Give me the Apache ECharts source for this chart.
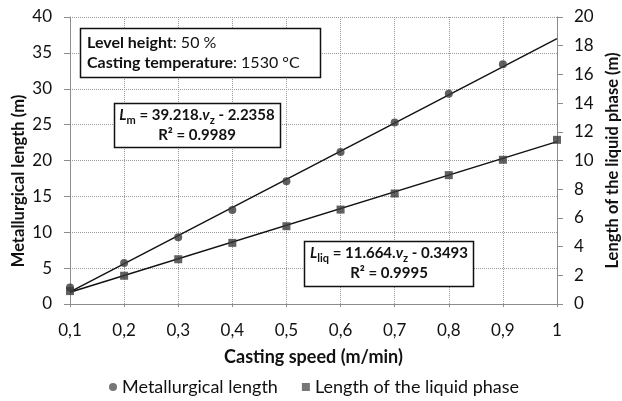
<!DOCTYPE html>
<html>
<head>
<meta charset="utf-8">
<script src="https://cdn.jsdelivr.net/npm/echarts@6/dist/echarts.min.js"></script>
<style>html,body{margin:0;padding:0;background:#fff;}#c{width:622px;height:401px;}</style>
</head>
<body>
<div id="c"></div>
<script>
const speeds = [0.1, 0.2, 0.3, 0.4, 0.5, 0.6, 0.7, 0.8, 0.9, 1.0];
const metallurgicalLength = [2.3, 5.7, 9.3, 13.1, 17.1, 21.2, 25.3, 29.3, 33.4];
const liquidPhaseLength = [0.9, 1.97, 3.12, 4.26, 5.42, 6.58, 7.7, 8.98, 10.05, 11.44];
const trendSpeeds = [0.1, 1.0];
const trendMetallurgical = [1.69, 36.98];
const trendLiquid = [0.82, 11.31];
const leftTicks = { min: 0, max: 40, interval: 5 };
const rightTicks = { min: 0, max: 20, interval: 2 };
const leftTitle = 'Metallurgical length (m)';
const rightTitle = 'Length of the liquid phase (m)';
const xTitle = 'Casting speed (m/min)';

const FONT = 'Lato';
const chart = echarts.init(document.getElementById('c'), null, { renderer: 'canvas' });
const pairs = (xs, ys) => ys.map((y, i) => [xs[i], y]);

const gridLine = { show: true, lineStyle: { color: '#999', type: [1, 1], width: 1 } };
const axisLine = { show: true, lineStyle: { color: '#8c8c8c', width: 1 } };
const labelStyle = { fontFamily: FONT, fontSize: 17, color: '#111' };
const nameStyle = { fontFamily: FONT, fontSize: 18, fontWeight: 'bold', color: '#111' };
const yNameStyle = { fontFamily: FONT, fontSize: 16.5, fontWeight: 'bold', color: '#111' };
const eqRich = {
  b: { fontFamily: FONT, fontSize: 15, fontWeight: 'bold', fill: '#111', lineHeight: 20 },
  i: { fontFamily: FONT, fontSize: 15, fontWeight: 'bold', fontStyle: 'italic', fill: '#111', lineHeight: 20 },
  s: { fontFamily: FONT, fontSize: 11, fontWeight: 'bold', fill: '#111', lineHeight: 20, verticalAlign: 'bottom' }
};

chart.setOption({
  animation: false,
  backgroundColor: '#fff',
  textStyle: { fontFamily: FONT },
  grid: { left: 70, right: 65, top: 17, bottom: 97, containLabel: false, outerBoundsMode: 'none' },
  legend: {
    bottom: 0,
    left: 104,
    itemWidth: 8,
    itemHeight: 8,
    itemGap: 24,
    textStyle: { fontFamily: FONT, fontSize: 18, color: '#111' },
    data: [
      { name: 'Metallurgical length', icon: 'circle', itemStyle: { color: '#555' } },
      { name: 'Length of the liquid phase', icon: 'rect', itemStyle: { color: '#555' } }
    ]
  },
  xAxis: {
    type: 'value',
    min: 0.1,
    max: 1,
    interval: 0.1,
    name: xTitle,
    nameLocation: 'middle',
    nameGap: 44,
    nameTextStyle: nameStyle,
    axisLine: axisLine,
    axisTick: { show: true, length: 3, lineStyle: { color: '#8c8c8c' } },
    splitLine: gridLine,
    axisLabel: Object.assign({}, labelStyle, {
      margin: 18,
      formatter: v => (Math.abs(v - 1) < 1e-9 ? '1' : v.toFixed(1).replace('.', ','))
    })
  },
  yAxis: [
    {
      type: 'value',
      min: leftTicks.min, max: leftTicks.max, interval: leftTicks.interval,
      axisLine: axisLine,
      axisTick: { show: true, length: 6, lineStyle: { color: '#8c8c8c' } },
      splitLine: gridLine,
      axisLabel: Object.assign({}, labelStyle, { margin: 18 })
    },
    {
      type: 'value',
      position: 'right',
      min: rightTicks.min, max: rightTicks.max, interval: rightTicks.interval,
      name: rightTitle,
      nameLocation: 'middle',
      nameRotate: 90,
      nameGap: 47,
      nameTextStyle: yNameStyle,
      axisLine: axisLine,
      axisTick: { show: true, length: 6, lineStyle: { color: '#8c8c8c' } },
      splitLine: { show: false },
      axisLabel: Object.assign({}, labelStyle, { margin: 17 })
    }
  ],
  series: [
    {
      name: 'trendM', type: 'line', yAxisIndex: 0, silent: true, symbol: 'none',
      lineStyle: { color: '#111', width: 1.4 },
      data: pairs(trendSpeeds, trendMetallurgical), z: 2
    },
    {
      name: 'trendL', type: 'line', yAxisIndex: 1, silent: true, symbol: 'none',
      lineStyle: { color: '#111', width: 1.4 },
      data: pairs(trendSpeeds, trendLiquid), z: 2
    },
    {
      name: 'Metallurgical length', type: 'scatter', yAxisIndex: 0,
      symbol: 'circle', symbolSize: 8,
      itemStyle: { color: '#3a3a3a' },
      data: pairs(speeds, metallurgicalLength), z: 3
    },
    {
      name: 'Length of the liquid phase', type: 'scatter', yAxisIndex: 1,
      symbol: 'rect', symbolSize: 8,
      itemStyle: { color: '#3a3a3a' },
      data: pairs(speeds, liquidPhaseLength), z: 3
    }
  ],
  graphic: [
    { type: 'text', x: 19, y: 181, rotation: Math.PI / 2, z: 11,
      style: {
        text: leftTitle, align: 'center', verticalAlign: 'middle',
        font: 'bold 16.5px ' + FONT, fill: '#111'
      } },
    { type: 'rect', shape: { x: 80.5, y: 28.5, width: 240, height: 49 },
      style: { fill: '#fff', stroke: '#111', lineWidth: 1.5 }, z: 10 },
    { type: 'text', x: 87, y: 33, z: 11,
      style: {
        text: '{b|Level height}{n|: 50 %}\n{b|Casting temperature}{n|: 1530 °C}',
        rich: {
          b: { fontFamily: FONT, fontSize: 16, fontWeight: 'bold', fill: '#111', lineHeight: 20 },
          n: { fontFamily: FONT, fontSize: 16, fill: '#111', lineHeight: 20 }
        }
      } },
    { type: 'rect', shape: { x: 114.5, y: 103.5, width: 166, height: 44 },
      style: { fill: '#fff', stroke: '#111', lineWidth: 1.5 }, z: 10 },
    { type: 'text', x: 197, y: 105.5, z: 11,
      style: {
        text: '{i|L}{s|m}{b| = 39.218.}{i|v}{s|z}{b| - 2.2358}\n{b|R² = 0.9989}',
        align: 'center',
        rich: eqRich
      } },
    { type: 'rect', shape: { x: 304.5, y: 241.5, width: 169, height: 45 },
      style: { fill: '#fff', stroke: '#111', lineWidth: 1.5 }, z: 10 },
    { type: 'text', x: 389, y: 243.5, z: 11,
      style: {
        text: '{i|L}{s|liq}{b| = 11.664.}{i|v}{s|z}{b| - 0.3493}\n{b|R² = 0.9995}',
        align: 'center',
        rich: eqRich
      } }
  ]
});
</script>
</body>
</html>
